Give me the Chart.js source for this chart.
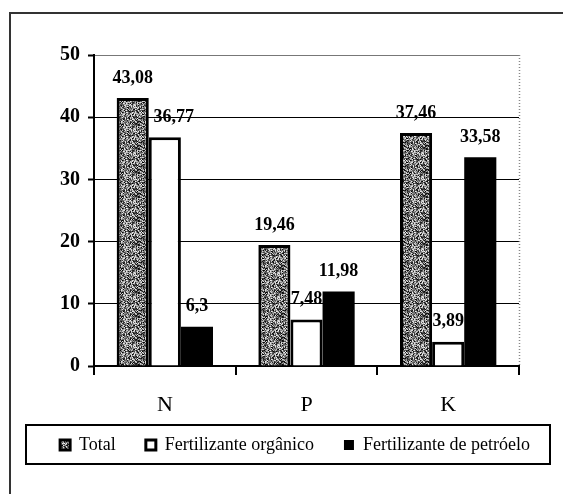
<!DOCTYPE html>
<html>
<head>
<meta charset="utf-8">
<script src="https://cdn.jsdelivr.net/npm/chart.js@4/dist/chart.umd.min.js"></script>
<style>
  html, body { margin: 0; padding: 0; background: #fff; }
  #wrap { width: 563px; height: 494px; }
</style>
</head>
<body>
<div id="wrap"><canvas id="c" width="563" height="494"></canvas></div>
<script>
// ---- data ----
const categories = ["N", "P", "K"];
const seriesNames = ["Total", "Fertilizante orgânico", "Fertilizante de petróelo"];
const totalValues = [43.08, 19.46, 37.46];
const organicValues = [36.77, 7.48, 3.89];
const petroleumValues = [6.3, 11.98, 33.58];
const yTicks = [0, 10, 20, 30, 40, 50];

const SERIF = "'Liberation Serif', 'Times New Roman', serif";

// stippled gray pattern (deterministic)
function makeStipple() {
  const c = document.createElement('canvas');
  c.width = 24; c.height = 24;
  const g = c.getContext('2d');
  const img = g.createImageData(24, 24);
  for (let i = 0; i < 24 * 24; i++) {
    let h = (i * 2654435761) >>> 0;
    h ^= h >>> 13; h = (h * 1274126177) >>> 0; h ^= h >>> 16;
    const v = 120 + (h % 125);
    img.data[i * 4] = v; img.data[i * 4 + 1] = v; img.data[i * 4 + 2] = v; img.data[i * 4 + 3] = 255;
  }
  g.putImageData(img, 0, 0);
  return g.createPattern(c, 'repeat');
}
const stipple = makeStipple();

const labelOffsets = [[0, 0, 0], [9, 0, 0], [0, 0, 0]];

const decor = {
  id: 'decor',
  beforeDatasetsDraw(chart) {
    const ctx = chart.ctx;
    ctx.save();
    ctx.font = "bold 18px " + SERIF;
    ctx.fillStyle = '#000';
    ctx.textAlign = 'center';
    ctx.textBaseline = 'middle';
    chart.data.datasets.forEach((ds, di) => {
      const meta = chart.getDatasetMeta(di);
      meta.data.forEach((el, i) => {
        const txt = String(ds.data[i]).replace('.', ',');
        ctx.fillText(txt, el.x + labelOffsets[di][i], el.y - 20);
      });
    });
    // dotted right border of plot
    const a = chart.chartArea;
    ctx.strokeStyle = '#888';
    ctx.lineWidth = 1.5;
    ctx.setLineDash([1, 2]);
    ctx.beginPath();
    ctx.moveTo(a.right + 0.5, a.top);
    ctx.lineTo(a.right + 0.5, a.bottom);
    ctx.stroke();
    ctx.restore();
  },
  afterDraw(chart) {
    const ctx = chart.ctx;
    ctx.save();
    // category labels under the x axis, placed by the category scale
    const xs = chart.scales.x;
    ctx.font = "22px " + SERIF;
    ctx.fillStyle = '#000';
    ctx.textAlign = 'center';
    ctx.textBaseline = 'middle';
    categories.forEach((cat, i) => {
      ctx.fillText(cat, xs.getPixelForValue(i), chart.chartArea.bottom + 39);
    });
    // outer frame (left + top)
    ctx.strokeStyle = '#333';
    ctx.lineWidth = 2;
    ctx.beginPath();
    ctx.moveTo(10, 494);
    ctx.lineTo(10, 13);
    ctx.lineTo(563, 13);
    ctx.stroke();
    // legend frame
    ctx.strokeStyle = '#000';
    ctx.lineWidth = 2;
    ctx.strokeRect(26, 425, 524, 39);
    ctx.restore();
  }
};

new Chart(document.getElementById('c'), {
  type: 'bar',
  data: {
    labels: categories,
    datasets: [
      { label: seriesNames[0], data: totalValues, backgroundColor: stipple, borderColor: '#000', borderWidth: 3 },
      { label: seriesNames[1], data: organicValues, backgroundColor: '#fff', borderColor: '#000', borderWidth: 3 },
      { label: seriesNames[2], data: petroleumValues, backgroundColor: '#000', borderColor: '#000', borderWidth: 0 }
    ]
  },
  options: {
    responsive: false,
    animation: false,
    devicePixelRatio: 1,
    layout: { padding: { left: 27, right: 0, top: 55, bottom: 30 } },
    datasets: { bar: { categoryPercentage: 0.68, barPercentage: 1.0 } },
    plugins: {
      legend: {
        position: 'bottom',
        labels: {
          font: { family: SERIF, size: 18 },
          color: '#000',
          boxWidth: 10,
          boxHeight: 10,
          padding: 30
        }
      },
      tooltip: { enabled: false },
      title: { display: false }
    },
    scales: {
      x: {
        grid: { display: true, drawOnChartArea: false, drawTicks: true, tickLength: 9, color: '#000', lineWidth: 2, offset: true },
        border: { display: true, color: '#000', width: 2 },
        ticks: { display: false },
        afterFit(s) { s.height = 40; }
      },
      y: {
        min: 0, max: 50,
        afterBuildTicks(s) { s.ticks = yTicks.map(v => ({ value: v })); },
        grid: {
          color: (c) => (c.tick && c.tick.value === 50) ? '#777' : '#000',
          lineWidth: 1,
          tickLength: 6,
          tickColor: '#000',
          tickWidth: 2
        },
        border: { display: true, color: '#000', width: 2 },
        ticks: { font: { family: SERIF, size: 20, weight: 'bold' }, color: '#000', padding: 8 },
        afterFit(s) { s.width = 67; }
      },
      yR: {
        position: 'right',
        display: true,
        grid: { display: false, drawTicks: false },
        border: { display: false },
        ticks: { display: false },
        afterFit(s) { s.width = 44; }
      }
    }
  },
  plugins: [decor]
});
</script>
</body>
</html>
